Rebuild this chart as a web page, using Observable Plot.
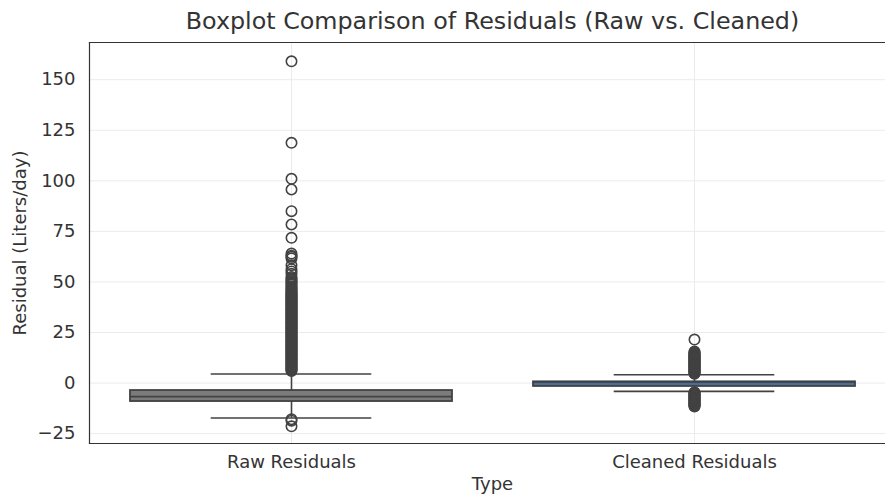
<!DOCTYPE html>
<html>
<head>
<meta charset="utf-8">
<script src="https://cdn.jsdelivr.net/npm/d3@7"></script>
<script src="https://cdn.jsdelivr.net/npm/@observablehq/plot@0.6"></script>
<style>
  body { margin: 0; background: #fff; }
</style>
</head>
<body>
<div id="chart"></div>
<script>
// Residual distributions per model type
const types = ["Raw Residuals", "Cleaned Residuals"];
const q1 = [-9.15, -1.7];
const median = [-6.7, 0.5];
const q3 = [-3.7, 0.6];
const whiskerLow = [-17.3, -4.1];
const whiskerHigh = [4.45, 4.1];

// Points beyond the whiskers
const rawOutliers = [
  5.9, 6.3, 6.8, 7.2, 7.6, 8.1, 8.5, 8.9, 9.3, 9.8, 10.2, 10.6, 11.0, 11.5, 11.9,
  12.3, 12.7, 13.2, 13.6, 14.0, 14.4, 14.9, 15.3, 15.7, 16.1, 16.6, 17.0, 17.4,
  17.8, 18.3, 18.7, 19.1, 19.5, 20.0, 20.4, 20.8, 21.2, 21.7, 22.1, 22.5, 22.9,
  23.4, 23.8, 24.2, 24.6, 25.1, 25.5, 25.9, 26.3, 26.8, 27.2, 27.6, 28.0, 28.5,
  28.9, 29.3, 29.7, 30.2, 30.6, 31.0, 31.4, 31.9, 32.3, 32.7, 33.1, 33.6, 34.0,
  34.4, 34.8, 35.3, 35.7, 36.1, 36.5, 37.0, 37.4, 37.8, 38.2, 38.7, 39.1, 39.5,
  39.9, 40.4, 40.8, 41.2, 41.6, 42.1, 42.5, 42.9, 43.3, 43.8, 44.2, 44.6, 45.0,
  45.6, 46.1, 46.7, 47.3, 47.9, 48.6, 49.2, 49.8, 50.4, 51.1, 51.7, 52.4,
  54.0, 55.2, 56.3, 58.2, 61.6, 62.4, 63.0, 64.0, 71.8, 78.4, 85.0, 95.7, 101.0,
  118.8, 159.1,
  -17.9, -18.6, -21.4
];
const cleanedOutliers = [
  4.6, 4.9, 5.2, 5.6, 5.9, 6.2, 6.5, 6.8, 7.1, 7.5, 7.8, 8.1, 8.4, 8.7, 9.0, 9.4,
  9.7, 10.0, 10.3, 10.6, 10.9, 11.3, 11.6, 11.9, 12.2, 12.5, 12.8, 13.2, 13.5,
  13.8, 14.1, 14.5, 14.8, 15.2, 15.6, 21.5,
  -4.6, -4.9, -5.2, -5.6, -5.9, -6.2, -6.5, -6.9, -7.2, -7.5, -7.8, -8.2, -8.5,
  -8.8, -9.1, -9.5, -9.8, -10.1, -10.4, -10.7, -11.0, -11.3, -11.6
];
const yTicks = [-25, 0, 25, 50, 75, 100, 125, 150];
const boxFill = ["#7b7b7b", "#4a6d9c"];
const edge = "#424242";
const ink = "#333333";

const stats = types.map((t, i) => ({
  type: t, q1: q1[i], median: median[i], q3: q3[i],
  lo: whiskerLow[i], hi: whiskerHigh[i], fill: boxFill[i]
}));
const outliers = [
  ...rawOutliers.map(v => ({type: types[0], value: v})),
  ...cleanedOutliers.map(v => ({type: types[1], value: v}))
];

const capInset = 80.7;

const chart = Plot.plot({
  width: 885,
  height: 499,
  marginTop: 42,
  marginBottom: 56,
  marginLeft: 89,
  marginRight: 0,
  style: {fontFamily: "DejaVu Sans", fontSize: "18px", color: ink, background: "#fff"},
  x: {type: "band", domain: types, range: [89, 896], paddingInner: 0.2, paddingOuter: 0.1},
  y: {domain: [-29.9, 168.4]},
  marks: [
    Plot.gridY(yTicks, {stroke: "#ebebeb", strokeOpacity: 1, strokeWidth: 1}),
    Plot.gridX(types, {stroke: "#ebebeb", strokeOpacity: 1, strokeWidth: 1}),
    Plot.axisY(yTicks, {tickSize: 0, tickPadding: 14, label: null, fontSize: 18, fill: ink}),
    Plot.axisX(types, {tickSize: 0, tickPadding: 12, label: null, fontSize: 18, fill: ink}),
    // whiskers
    Plot.ruleX(stats, {x: "type", y1: "lo", y2: "hi", stroke: edge, strokeWidth: 1.6}),
    Plot.tickY(stats, {x: "type", y: "lo", stroke: edge, strokeWidth: 1.6, insetLeft: capInset, insetRight: capInset}),
    Plot.tickY(stats, {x: "type", y: "hi", stroke: edge, strokeWidth: 1.6, insetLeft: capInset, insetRight: capInset}),
    // boxes
    Plot.barY(stats, {x: "type", y1: "q1", y2: "q3", fill: "fill", stroke: edge, strokeWidth: 1.8}),
    Plot.tickY(stats, {x: "type", y: "median", stroke: edge, strokeWidth: 1.6}),
    // outliers
    Plot.dot(outliers, {x: "type", y: "value", r: 5.2, stroke: edge, strokeWidth: 1.6, fill: "none"}),
    // spines
    Plot.frame({anchor: "left", stroke: "#333", strokeWidth: 1.2}),
    Plot.frame({anchor: "top", stroke: "#333", strokeWidth: 1.2}),
    Plot.frame({anchor: "bottom", stroke: "#333", strokeWidth: 1.2}),
    // titles (centred over the full axes width)
    Plot.text(["Boxplot Comparison of Residuals (Raw vs. Cleaned)"], {
      frameAnchor: "top", dx: 5, dy: -30, text: d => d, fontSize: 23.8, fill: ink
    }),
    Plot.text(["Type"], {frameAnchor: "bottom", dx: 5, dy: 46, text: d => d, fontSize: 18, fill: ink}),
    Plot.text(["Residual (Liters/day)"], {
      frameAnchor: "left", dx: -69, rotate: -90, textAnchor: "middle",
      text: d => d, fontSize: 18, fill: ink
    })
  ]
});
document.getElementById("chart").appendChild(chart);
</script>
</body>
</html>
